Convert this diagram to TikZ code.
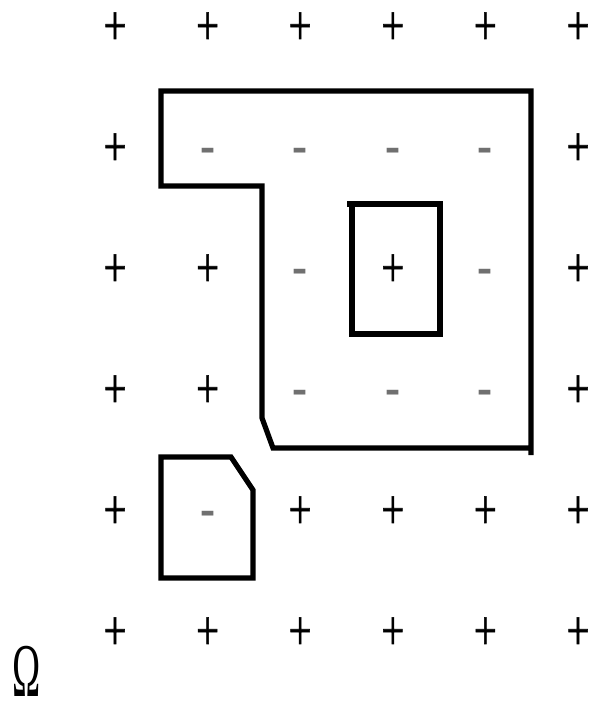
\documentclass[tikz,border=0pt]{standalone}
\usepackage{fontspec}
\setmainfont{Liberation Serif}
\newfontfamily\signfont[FakeBold=1.2]{Liberation Serif}
\usepackage{graphicx}
\definecolor{signGray}{HTML}{707070}
\newcommand{\tallsign}[1]{\scalebox{1}[1.4]{#1}}
\tikzset{
  wall/.style={draw=black, line width=3.7pt, line join=miter},
  signp/.style={font=\signfont\fontsize{29}{29}\selectfont, inner sep=0pt,
                text height=20.8pt, text depth=0pt, node contents={\tallsign{+}}},
  signm/.style={font=\fontsize{32}{32}\selectfont, inner sep=0pt, text=signGray,
                text height=20pt, text depth=0pt, node contents={\tallsign{-}}},
  omegaMark/.style={font=\fontsize{27}{27}\selectfont, inner sep=0pt},
}
\begin{document}
\begin{tikzpicture}[x=0.025cm, y=-0.025cm]
  \useasboundingbox (0,0) rectangle (589,704);
  % grid of signs, row by row
  \foreach \row [count=\j] in {{p,p,p,p,p,p},{p,m,m,m,m,p},{p,p,m,p,m,p},
                               {p,p,m,m,m,p},{p,m,p,p,p,p},{p,p,p,p,p,p}}
    \foreach \s [count=\i] in \row
      \node[sign\s, at={(115+92.6*\i-92.6, 30+121*\j-121)}];
  % outer region
  \draw[wall] (531,455) -- (531,91) -- (161,91) -- (161,186) -- (262,186)
    -- (262,418) -- (273,448) -- (531,448);
  % hole
  \draw[wall] (347,204) -- (440,204) -- (440,334) -- (352,334) -- (352,204);
  % small region
  \draw[wall] (161,457) -- (231,457) -- (253,490) -- (253,578) -- (161,578)
    -- cycle;
  \node[omegaMark] (omega) at (27,671) {\scalebox{1}[2.0]{Ω}};
\end{tikzpicture}
\end{document}
